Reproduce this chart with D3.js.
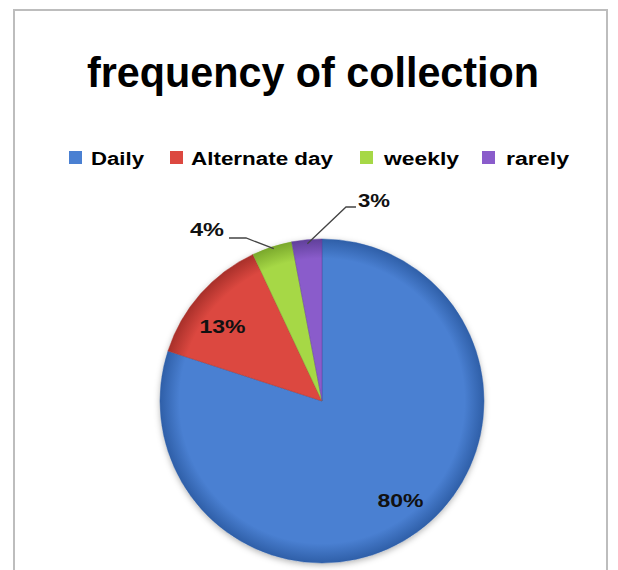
<!DOCTYPE html>
<html><head><meta charset="utf-8">
<script src="https://cdn.jsdelivr.net/npm/d3@7"></script>
<style>html,body{margin:0;padding:0;background:#fff;}svg{display:block;}</style>
</head><body>
<svg id="chart" width="618" height="570"></svg>
<script>
const categories = ["Daily", "Alternate day", "weekly", "rarely"];
const values = [80, 13, 4, 3];
const labels = ["80%", "13%", "4%", "3%"];
const colors = ["#4a80d2", "#dc4840", "#a6d846", "#8a5ccb"];
const darks = ["#2f5fa8", "#a8302a", "#7aa82c", "#60409a"];

const svg = d3.select("#chart");
const font = "'Liberation Sans', Arial, sans-serif";

// frame
svg.append("rect").attr("x", 14).attr("y", 10).attr("width", 593).attr("height", 580)
  .attr("fill", "#fff").attr("stroke", "#bdbdbd").attr("stroke-width", 2);

// title
svg.append("text").attr("x", 313).attr("y", 87).attr("text-anchor", "middle")
  .attr("font-family", font).attr("font-weight", "bold").attr("font-size", 42)
  .attr("textLength", 452).attr("lengthAdjust", "spacingAndGlyphs")
  .attr("fill", "#000").text("frequency of collection");

const defs = svg.append("defs");
colors.forEach((c, i) => {
  const g = defs.append("radialGradient").attr("id", "g" + i)
    .attr("gradientUnits", "userSpaceOnUse").attr("cx", 0).attr("cy", 0).attr("r", 162);
  g.append("stop").attr("offset", "0%").attr("stop-color", c);
  g.append("stop").attr("offset", "88%").attr("stop-color", c);
  g.append("stop").attr("offset", "100%").attr("stop-color", darks[i]);
});
const sh = defs.append("filter").attr("id", "shadow").attr("x", "-20%").attr("y", "-20%").attr("width", "140%").attr("height", "140%");
sh.append("feDropShadow").attr("dx", 0).attr("dy", 2).attr("stdDeviation", 3).attr("flood-color", "#000").attr("flood-opacity", 0.3);

// legend
const legendX = [69, 170, 360, 482];
const legendTextX = [91, 191, 384, 506];
const legendTextW = [53, 142, 75, 63];
const leg = svg.append("g");
categories.forEach((c, i) => {
  leg.append("rect").attr("x", legendX[i]).attr("y", 151).attr("width", 13).attr("height", 13)
    .attr("fill", colors[i]);
  leg.append("text").attr("x", legendTextX[i]).attr("y", 165)
    .attr("font-family", font).attr("font-weight", "bold").attr("font-size", 18)
    .attr("textLength", legendTextW[i]).attr("lengthAdjust", "spacingAndGlyphs")
    .attr("fill", "#000").text(c);
});

// pie
const cx = 322, cy = 401, R = 162;
const pie = d3.pie().sort(null).value(d => d);
const arcs = pie(values);
const arc = d3.arc().innerRadius(0).outerRadius(R);
const g = svg.append("g").attr("transform", `translate(${cx},${cy})`);
g.append("circle").attr("r", R).attr("fill", "#fff").attr("filter", "url(#shadow)");
g.selectAll("path.slice").data(arcs).join("path").attr("class", "slice")
  .attr("d", arc)
  .attr("fill", (d, i) => `url(#g${i})`)
  .attr("stroke", (d, i) => darks[i]).attr("stroke-width", 0.8).attr("stroke-opacity", 0.6);

// labels
const lab = g.append("g").attr("font-family", font).attr("font-weight", "bold")
  .attr("font-size", 19).attr("fill", "#111");
const inner = d3.arc().innerRadius(R * 0.72).outerRadius(R * 0.72);
const adjust = [[10, 5], [-12, 2]];
[0, 1].forEach(i => {
  const p = inner.centroid(arcs[i]);
  lab.append("text").attr("x", p[0] + adjust[i][0]).attr("y", p[1] + adjust[i][1] + 7)
    .attr("text-anchor", "middle")
    .attr("textLength", 46).attr("lengthAdjust", "spacingAndGlyphs").text(labels[i]);
});
const edge = d3.arc().innerRadius(R - 6).outerRadius(R - 6);
const pG = edge.centroid(arcs[2]);
const pP = edge.centroid(arcs[3]);
const line = d3.line();
g.append("path").attr("d", line([[pG[0], pG[1] - 4], [-76, -163], [-93, -163]]))
  .attr("fill", "none").attr("stroke", "#444").attr("stroke-width", 1.3);
lab.append("text").attr("x", -98).attr("y", -165).attr("text-anchor", "end")
  .attr("textLength", 34).attr("lengthAdjust", "spacingAndGlyphs").text(labels[2]);
g.append("path").attr("d", line([[pP[0], pP[1] - 2], [24, -194], [34, -194]]))
  .attr("fill", "none").attr("stroke", "#444").attr("stroke-width", 1.3);
lab.append("text").attr("x", 36).attr("y", -194).attr("textLength", 32)
  .attr("lengthAdjust", "spacingAndGlyphs").text(labels[3]);
</script>
</body></html>
